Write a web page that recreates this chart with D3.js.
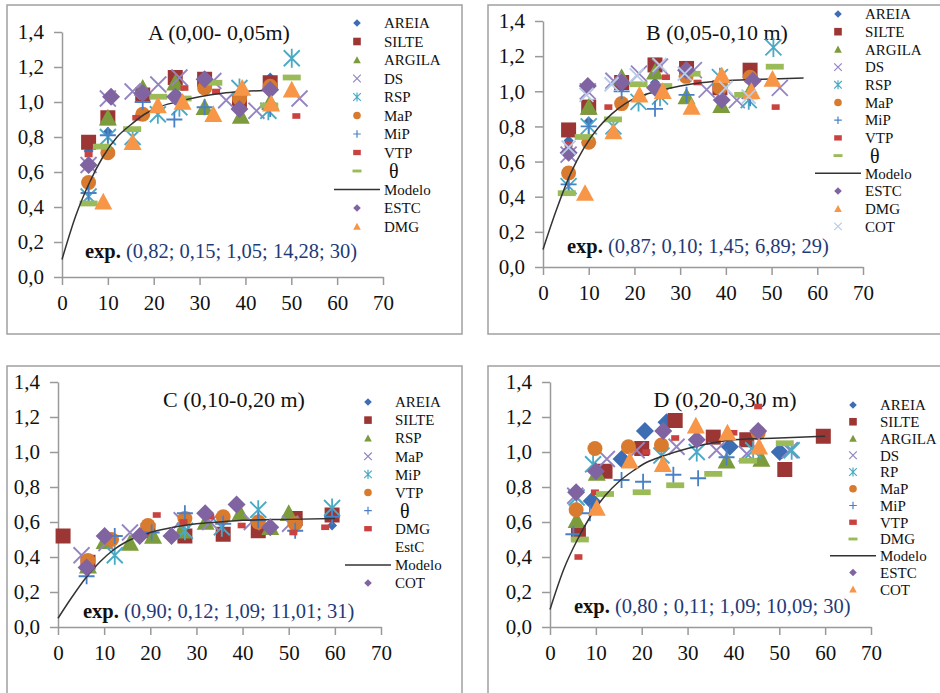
<!DOCTYPE html>
<html>
<head>
<meta charset="utf-8">
<script src="https://cdn.jsdelivr.net/npm/d3@7"></script>
<style>
body { margin: 0; background: #fff; }
text { font-family: "Liberation Serif", "Times New Roman", serif; }
</style>
</head>
<body>
<script>
const xTicks = [0, 10, 20, 30, 40, 50, 60, 70]
const yTicks = [0, 0.2, 0.4, 0.6, 0.8, 1.0, 1.2, 1.4]

// A (0,00-0,05m)
const aAreia = [[5.8,0.72],[10,0.83],[17.6,1.02],[25,1.05],[31,1.1],[45.4,1.14]]
const aSilte = [[5.8,0.77],[10,0.91],[17.6,1.04],[24.7,1.14],[31.1,1.13],[38.7,1.01],[45.4,1.11]]
const aArgila = [[10,0.91],[17.6,1.08],[24.7,1.11],[31.1,0.97],[39,0.92],[45.4,1.0]]
const aDs = [[5.8,0.64],[10,1.02],[15.4,1.06],[21,1.1],[25.6,1.14],[33,1.12],[35.8,1.01],[42.4,0.95],[51.8,1.02]]
const aRsp = [[5.8,0.46],[10,0.8],[15.4,0.8],[20.9,0.93],[25.6,0.97],[38.7,1.08],[45,0.95],[50.1,1.25]]
const aMap = [[5.8,0.54],[10,0.71],[17.6,0.93],[31.1,1.08],[38.7,1.02],[45.4,1.09]]
const aMip = [[5.8,0.48],[10,0.81],[17.6,1.0],[24.5,0.9],[31.1,0.97],[45.4,0.96]]
const aVtp = [[5.8,0.7],[16.2,0.91],[26.7,1.08],[33.6,1.06],[51.1,0.92]]
const aTheta = [[5.8,0.42],[8.7,0.745],[15.3,0.845],[21,1.03],[26.3,1.02],[33,1.11],[45.2,0.98],[50.1,1.14]]
const aModel = [[0,0.1],[3,0.35],[6,0.54],[9,0.69],[12,0.8],[15,0.87],[18,0.93],[21,0.97],[25,1.0],[30,1.03],[35,1.05],[40,1.06],[47,1.07]]
const aEstc = [[5.8,0.64],[10.7,1.03],[17.6,1.05],[24.7,1.03],[31.1,1.13],[38.7,0.96],[45.4,1.07]]
const aDmg = [[9,0.43],[15.4,0.77],[20.9,0.98],[26.3,1.0],[33,0.93],[39.3,1.08],[45.6,0.99],[50.1,1.07]]

// B (0,05-0,10 m)
const bAreia = [[5.6,0.72],[10,0.83],[17.2,1.02],[24.5,1.05],[31.4,1.1],[45.3,1.13]]
const bSilte = [[5.6,0.78],[10,0.91],[17.2,1.05],[24.5,1.15],[31.4,1.13],[38.7,1.02],[45.3,1.12]]
const bArgila = [[10,0.91],[17.2,1.08],[24.5,1.11],[31.4,0.97],[39,0.92],[45.3,1.0]]
const bDs = [[5.6,0.64],[9.8,1.0],[15.4,1.06],[21,1.1],[25.6,1.14],[33,1.12],[35.8,1.01],[42.4,0.95],[51.8,1.02]]
const bRsp = [[5.6,0.46],[10,0.8],[15.4,0.8],[20.9,0.94],[25.6,0.97],[38.7,1.08],[45,0.95],[50.4,1.25]]
const bMap = [[5.6,0.535],[10,0.71],[17.2,0.93],[31.3,1.085],[38.7,1.02],[45.3,1.08]]
const bMip = [[5.6,0.47],[10,0.8],[17.2,1.0],[24.5,0.9],[31.4,0.98],[45.3,0.96]]
const bVtp = [[5.6,0.7],[14.3,0.91],[26.9,1.08],[33.8,1.05],[50.9,0.91]]
const bTheta = [[5.2,0.42],[8.9,0.74],[15.3,0.84],[20.9,1.04],[26.3,1.03],[32.5,1.1],[43.8,0.98],[50.7,1.14]]
const bModel = [[0,0.1],[3,0.33],[6,0.53],[9,0.68],[12,0.79],[15,0.87],[18,0.93],[21,0.97],[25,1.0],[30,1.03],[35,1.05],[40,1.06],[50,1.07],[57,1.075]]
const bEstc = [[5.6,0.65],[9.8,1.03],[17.2,1.05],[24.5,1.02],[31.3,1.12],[39.1,0.95],[45.9,1.06]]
const bDmg = [[9.2,0.42],[15.4,0.77],[21.1,0.98],[26.2,1.0],[32.5,0.91],[39.1,1.09],[45.6,1.0],[50.2,1.07]]
const bCot = [[5.6,0.68],[9.5,0.98],[15,1.04],[20.5,1.09],[25.5,1.15],[31,1.1],[40,1.02],[45,0.97]]

// C (0,10-0,20 m)
const cAreia = [[6.5,0.36],[59.4,0.58]]
const cSilte = [[1.1,0.52],[6.5,0.37],[19.5,0.55],[27.5,0.52],[35.8,0.53],[43.4,0.55],[51.4,0.62],[59.4,0.64]]
const cRsp = [[6.5,0.35],[10.1,0.49],[15.6,0.48],[20.6,0.52],[26.8,0.55],[32,0.6],[39.5,0.65],[46,0.57],[50,0.65]]
const cMap = [[5.1,0.41],[10.5,0.48],[15.6,0.54],[26.8,0.61],[33,0.6],[42,0.6],[50.3,0.59]]
const cMip = [[12.3,0.41],[27.5,0.55],[35.5,0.57],[43.4,0.67],[59.4,0.68]]
const cVtp = [[6.5,0.38],[11.6,0.5],[19.5,0.58],[27.5,0.62],[35.8,0.63],[43.4,0.6],[51.4,0.59]]
const cTheta = [[6.2,0.29],[12.3,0.52],[20.3,0.54],[27.5,0.65],[35.8,0.59],[43.4,0.61],[51.4,0.55],[59.4,0.63]]
const cDmg = [[21.4,0.64],[27.2,0.6],[33,0.63],[39.8,0.58],[51,0.54],[57.9,0.57]]
const cModel = [[0,0.05],[3,0.17],[6,0.28],[9,0.37],[12,0.44],[15,0.49],[20,0.54],[25,0.57],[30,0.59],[35,0.6],[40,0.61],[50,0.615],[60,0.62]]
const cCot = [[6.2,0.34],[10.1,0.52],[17.7,0.52],[24.6,0.52],[31.9,0.65],[38.7,0.7],[46,0.57]]

// D (0,20-0,30 m)
const dAreia = [[9.1,0.72],[15.6,0.96],[20.7,1.12],[25.4,1.17],[39.2,1.03],[50.1,1.0]]
const dSilte = [[6.2,0.54],[12,0.89],[20,1.02],[27.3,1.18],[35.6,1.085],[42.9,1.07],[51.2,0.9],[59.6,1.09]]
const dArgila = [[5.8,0.61],[10.2,0.88],[38.5,0.95],[46.1,0.96]]
const dDs = [[5.5,0.75],[12.4,0.96],[18.9,1.01],[27.6,1.03],[36.3,1.01],[42.9,0.99],[52.3,1.01]]
const dRp = [[5.8,0.74],[9.4,0.93],[24.3,0.98],[32,1.0],[44.3,1.01],[52.7,1.01]]
const dMap = [[5.7,0.67],[9.8,1.02],[17.1,1.03],[24.3,1.04],[45.4,1.11]]
const dMip = [[5.1,0.53],[8.7,0.65],[15.6,0.84],[20.3,0.83],[26.9,0.87],[32.3,0.85],[38.5,0.97]]
const dVtp = [[6.2,0.4],[9.8,0.77],[21,1.0],[27.3,1.08],[40,1.11],[45.4,1.26]]
const dDmg = [[6.5,0.5],[12,0.76],[20,0.77],[27.3,0.81],[35.6,0.875],[43.2,0.95],[51.2,1.05]]
const dModel = [[0,0.1],[3,0.33],[6,0.5],[9,0.64],[12,0.75],[15,0.83],[18,0.89],[21,0.94],[25,0.98],[30,1.02],[35,1.05],[40,1.07],[50,1.08],[60,1.09]]
const dEstc = [[5.7,0.77],[10,0.89],[24.7,1.12],[32,1.07],[45.4,1.12]]
const dCot = [[10.2,0.68],[17.4,0.95],[24.6,0.93],[31.8,1.15],[38.7,1.11],[45.6,1.03]]

const legendA = ['AREIA','SILTE','ARGILA','DS','RSP','MaP','MiP','VTP','θ','Modelo','ESTC','DMG']
const legendB = ['AREIA','SILTE','ARGILA','DS','RSP','MaP','MiP','VTP','θ','Modelo','ESTC','DMG','COT']
const legendC = ['AREIA','SILTE','RSP','MaP','MiP','VTP','θ','DMG','EstC','Modelo','COT']
const legendD = ['AREIA','SILTE','ARGILA','DS','RP','MaP','MiP','VTP','DMG','Modelo','ESTC','COT']

// marker style by series position (Excel default order)
const styles = [
    {kind: 'diamond', color: '#3d6eb4', r: 5},
    {kind: 'square', color: '#9c3634', r: 7.5},
    {kind: 'triangle', color: '#7b9b3c', r: 9},
    {kind: 'cross', color: '#9484c4', r: 8},
    {kind: 'star', color: '#4aaac4', r: 8},
    {kind: 'circle', color: '#d97b2f', r: 7.5},
    {kind: 'plus', color: '#4a80c6', r: 8},
    {kind: 'rect', color: '#c9423f', r: 4},
    {kind: 'dash', color: '#9bbb59', r: 9},
    {kind: 'line', color: '#333'},
    {kind: 'diamond', color: '#8064a2', r: 9},
    {kind: 'triangle', color: '#f79646', r: 9},
    {kind: 'cross', color: '#b9cbe6', r: 7}
]

const panels = [
    {frame: [7, 5, 455, 329], x0: 62, x1: 383, y0: 277, y1: 32,
     title: 'A (0,00- 0,05m)', tx: 219, ty: 40, exp: '(0,82; 0,15; 1,05; 14,28; 30)', ex: 85, ey: 258,
     lx: 357, ly: 23, step: 18.5, legend: legendA,
     series: [aAreia, aSilte, aArgila, aDs, aRsp, aMap, aMip, aVtp, aTheta, aModel, aEstc, aDmg]},
    {frame: [488, 5, 460, 329], x0: 543, x1: 863, y0: 267, y1: 21,
     title: 'B (0,05-0,10 m)', tx: 717, ty: 40, exp: '(0,87; 0,10; 1,45; 6,89; 29)', ex: 567, ey: 253,
     lx: 838, ly: 14, step: 17.7, legend: legendB,
     series: [bAreia, bSilte, bArgila, bDs, bRsp, bMap, bMip, bVtp, bTheta, bModel, bEstc, bDmg, bCot]},
    {frame: [7, 366, 455, 340], x0: 58, x1: 381, y0: 627, y1: 382,
     title: 'C (0,10-0,20 m)', tx: 234, ty: 407, exp: '(0,90; 0,12; 1,09; 11,01; 31)', ex: 83, ey: 618,
     lx: 368, ly: 402, step: 18.1, legend: legendC, noMarker: 8,
     series: [cAreia, cSilte, cRsp, cMap, cMip, cVtp, cTheta, cDmg, [], cModel, cCot]},
    {frame: [488, 366, 460, 340], x0: 550, x1: 871, y0: 627, y1: 382,
     title: 'D (0,20-0,30 m)', tx: 725, ty: 407, exp: '(0,80 ; 0,11; 1,09; 10,09; 30)', ex: 574, ey: 613,
     lx: 853, ly: 405, step: 16.75, legend: legendD, bigAreia: true,
     series: [dAreia, dSilte, dArgila, dDs, dRp, dMap, dMip, dVtp, dDmg, dModel, dEstc, dCot]}
]

function markerPath(kind, r) {
    switch (kind) {
        case 'diamond': return `M0,${-r}L${r},0L0,${r}L${-r},0Z`
        case 'square': return `M${-r},${-r}h${2*r}v${2*r}h${-2*r}Z`
        case 'triangle': return `M0,${-r}L${r},${r*0.85}L${-r},${r*0.85}Z`
        case 'circle': return `M${r},0A${r},${r} 0 1,1 ${-r},0A${r},${r} 0 1,1 ${r},0Z`
        case 'cross': return `M${-r},${-r}L${r},${r}M${-r},${r}L${r},${-r}`
        case 'star': return `M${-r},${-r}L${r},${r}M${-r},${r}L${r},${-r}M0,${-r*1.2}L0,${r*1.2}`
        case 'plus': return `M${-r},0L${r},0M0,${-r}L0,${r}`
        case 'rect': return `M${-r},${-r*0.7}h${2*r}v${1.4*r}h${-2*r}Z`
        case 'dash': return `M${-r},${-r*0.32}h${2*r}v${0.64*r}h${-2*r}Z`
    }
}
const stroked = k => k === 'cross' || k === 'star' || k === 'plus'

const svg = d3.select('body').append('svg')
    .attr('width', 940)
    .attr('height', 693)

const fmtY = d => d.toFixed(1).replace('.', ',')

panels.forEach(function(p) {
    const g = svg.append('g')

    g.append('rect')
        .attr('x', p.frame[0]).attr('y', p.frame[1])
        .attr('width', p.frame[2]).attr('height', p.frame[3])
        .attr('fill', '#fff')
        .attr('stroke', '#a0a0a0')
        .attr('stroke-width', 1.5)

    const x = d3.scaleLinear().domain([0, 70]).range([p.x0, p.x1])
    const y = d3.scaleLinear().domain([0, 1.4]).range([p.y0, p.y1])

    const xAxis = g.append('g')
        .attr('transform', `translate(0,${p.y0})`)
        .call(d3.axisBottom(x).tickValues(xTicks).tickSize(8).tickSizeOuter(0).tickPadding(10))
    const yAxis = g.append('g')
        .attr('transform', `translate(${p.x0},0)`)
        .call(d3.axisLeft(y).tickValues(yTicks).tickFormat(fmtY).tickSize(8).tickSizeOuter(0).tickPadding(10))
    ;[xAxis, yAxis].forEach(function(a) {
        a.attr('font-family', null)
        a.select('.domain').attr('stroke', '#999').attr('stroke-width', 1.5)
        a.selectAll('.tick line').attr('stroke', '#999').attr('stroke-width', 1.5)
        a.selectAll('.tick text')
            .attr('fill', '#111')
            .style('font-size', '21px')
            .style('font-family', '"Liberation Serif", serif')
    })

    g.append('text')
        .attr('x', p.tx).attr('y', p.ty)
        .attr('text-anchor', 'middle')
        .style('font-size', '22px')
        .attr('fill', '#111')
        .text(p.title)

    const line = d3.line()
        .x(d => x(d[0]))
        .y(d => y(d[1]))
        .curve(d3.curveMonotoneX)

    p.series.forEach(function(data, i) {
        const st = styles[i]
        if (st.kind === 'line') {
            g.append('path')
                .attr('d', line(data))
                .attr('fill', 'none')
                .attr('stroke', st.color)
                .attr('stroke-width', 1.5)
            return
        }
        let r = st.r
        if (i === 0 && p.bigAreia) r = 9
        g.selectAll(null)
            .data(data)
            .enter()
            .append('path')
                .attr('transform', d => `translate(${x(d[0])},${y(d[1])})`)
                .attr('d', markerPath(st.kind, r))
                .attr('fill', stroked(st.kind) ? 'none' : st.color)
                .attr('stroke', stroked(st.kind) ? st.color : 'none')
                .attr('stroke-width', 1.8)
    })

    // legend
    p.legend.forEach(function(name, i) {
        const st = styles[i]
        const cy = p.ly + i * p.step
        if (st.kind === 'line') {
            g.append('line')
                .attr('x1', p.lx - 23).attr('x2', p.lx + 23)
                .attr('y1', cy).attr('y2', cy)
                .attr('stroke', st.color)
                .attr('stroke-width', 1.5)
        } else if (p.noMarker !== i) {
            const r = st.kind === 'dash' ? 4.5 : 3.8
            g.append('path')
                .attr('transform', `translate(${p.lx},${cy})`)
                .attr('d', markerPath(st.kind, r))
                .attr('fill', stroked(st.kind) ? 'none' : st.color)
                .attr('stroke', stroked(st.kind) ? st.color : 'none')
                .attr('stroke-width', 1.2)
        }
        const isTheta = name === 'θ'
        g.append('text')
            .attr('x', isTheta ? p.lx + 32 : p.lx + 27)
            .attr('y', cy)
            .attr('dy', '0.35em')
            .style('font-size', isTheta ? '20px' : '15px')
            .attr('fill', '#111')
            .text(name)
    })

    const t = g.append('text')
        .attr('x', p.ex).attr('y', p.ey)
        .style('font-size', '20.5px')
    t.append('tspan').attr('font-weight', 'bold').attr('fill', '#111').text('exp. ')
    t.append('tspan').attr('fill', '#1f3a78').text(p.exp)
})
</script>
</body>
</html>
